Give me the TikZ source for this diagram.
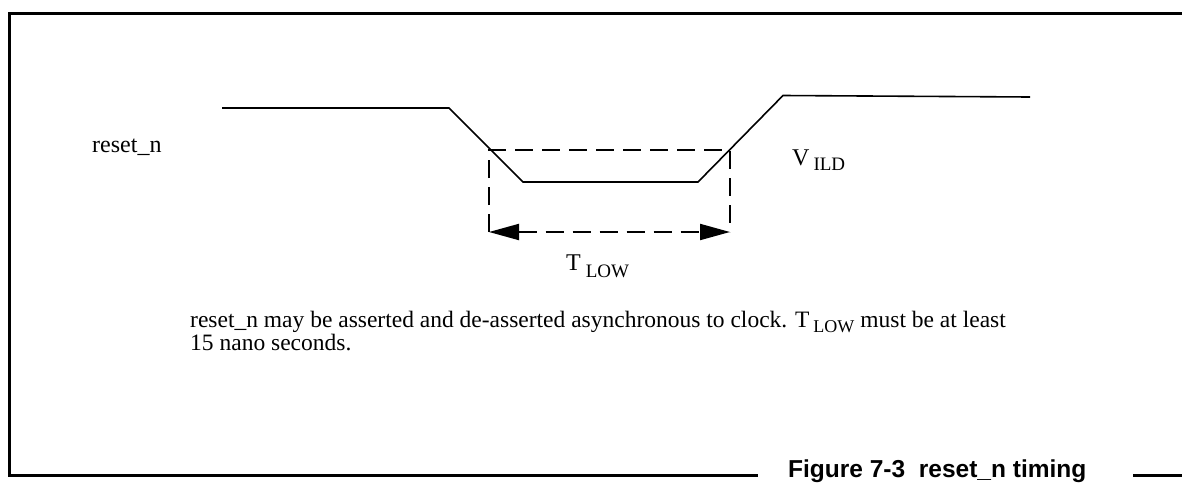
\documentclass[tikz,border=0pt]{standalone}
\usepackage{fontspec}
\setmainfont{Liberation Serif}
\newfontfamily\capfont{Liberation Sans}
\usetikzlibrary{arrows.meta}
\begin{document}
\begin{tikzpicture}[x=1pt,y=-1pt,
  frameline/.style={line width=3pt},
  sigline/.style={line width=1.6pt, line join=miter},
  dashline/.style={line width=2pt, dash pattern=on 18pt off 9pt},
  lbl/.style={inner sep=0pt, anchor=base west, font=\fontsize{24}{28}\selectfont},
  body/.style={inner sep=0pt, anchor=base west, align=left, font=\fontsize{23.5}{23}\selectfont},
  captxt/.style={inner sep=0pt, anchor=base west, font=\capfont\bfseries\fontsize{24.5}{28}\selectfont}]
\useasboundingbox (0,0) rectangle (1182,485);
% frame
\coordinate (fTR) at (1182,13);
\coordinate (fTL) at (9.5,13);
\coordinate (fBL) at (9.5,475.5);
\coordinate (fBM) at (758,475.5);
\coordinate (fR1) at (1133,475.5);
\coordinate (fR2) at (1182,475.5);
\draw[frameline] (fTR) -- (fTL) -- (fBL) -- (fBM);
\draw[frameline] (fR1) -- (fR2);
\node[captxt] (cap) at (788,477) {Figure 7-3\ \ reset\_n timing};
% waveform
\coordinate (w0) at (222,108);
\coordinate (w1) at (449,108);
\coordinate (w2) at (523,182);
\coordinate (w3) at (698,182);
\coordinate (w4) at (783,95.5);
\coordinate (w5) at (1030,97);
\draw[sigline] (w0) -- (w1) -- (w2) -- (w3) -- (w4) -- (w5);
% dashed box
\coordinate (dBL) at (489,232);
\coordinate (dTL) at (489,150);
\coordinate (dTR) at (730,150);
\coordinate (dBR) at (730,232);
\draw[dashline] (dBL) -- (dTL) -- (dTR) -- (dBR);
\draw[dashline, {Triangle[length=30pt,width=16pt]}-{Triangle[length=30pt,width=16pt]}] (dBL) -- (dBR);
% labels
\node[lbl] (rst) at (92,152) {reset\_n};
\node[lbl] (vild) at (792,165) {V\hspace{4pt}\raisebox{-5pt}{\fontsize{19}{20}\selectfont ILD}};
\node[lbl] (tlow) at (566,270) {T\hspace{5pt}\raisebox{-7pt}{\fontsize{19}{20}\selectfont LOW}};
\node[body] (note) at (190,350) {reset\_n may be asserted and de-asserted asynchronous to clock. T\hspace{4pt}\raisebox{-5pt}{\fontsize{18}{20}\selectfont LOW} must be at least\\15 nano seconds.};
\end{tikzpicture}
\end{document}
